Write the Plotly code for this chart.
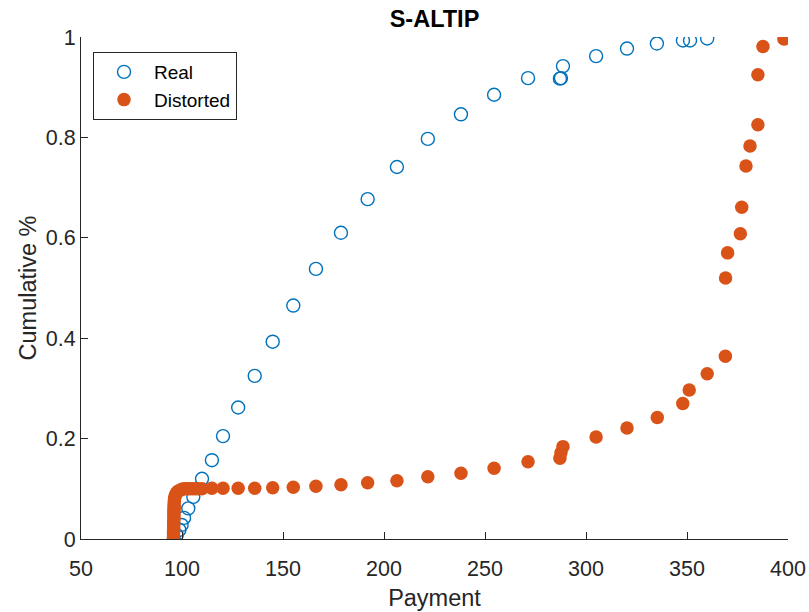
import plotly.graph_objects as go

# Real (empirical CDF)
real_x = [96.0, 97.4, 98.7, 99.8, 101.0, 103.1, 105.6, 109.9, 114.8, 120.3, 127.8,
          136.0, 144.9, 155.1, 166.3, 178.7, 191.9, 206.4, 221.7, 238.1, 254.5, 271.3,
          287.1, 287.6, 288.6, 305.0, 320.3, 335.1, 348.0, 351.5, 360.0]
real_y = [0.0, 0.008, 0.018, 0.028, 0.042, 0.061, 0.084, 0.120, 0.157, 0.205, 0.262,
          0.325, 0.393, 0.465, 0.538, 0.610, 0.677, 0.741, 0.797, 0.846, 0.885, 0.918,
          0.917, 0.918, 0.942, 0.962, 0.977, 0.987, 0.993, 0.993, 0.997]

# Distorted
dist_x = [95.8, 95.8, 95.8, 95.8, 95.8, 95.9, 95.9, 95.9, 95.9, 95.9, 96.0, 96.0,
          96.0, 96.0, 96.0, 96.1, 96.1, 96.1, 96.2, 96.2, 96.3, 96.5, 96.8, 97.3,
          98.0, 99.0, 100.0, 101.0, 102.3, 103.6, 105.0, 106.5, 108.0,
          109.9, 114.8, 120.3, 127.8, 136.0, 144.9, 155.1, 166.3, 178.7, 191.9,
          206.4, 221.7, 238.1, 254.5, 271.3, 287.1, 287.6, 288.6, 305.0, 320.3,
          335.3, 347.9, 351.1, 360.0, 369.0, 369.1, 370.1, 376.4, 377.1, 379.2,
          381.2, 385.1, 385.1, 387.6, 398.0]
dist_y = [0.0, 0.004, 0.008, 0.012, 0.016, 0.020, 0.024, 0.028, 0.032, 0.036, 0.040,
          0.044, 0.048, 0.052, 0.056, 0.060, 0.064, 0.068, 0.072, 0.076, 0.080, 0.084,
          0.088, 0.092, 0.095, 0.097, 0.099, 0.100, 0.100, 0.100, 0.100, 0.100, 0.100,
          0.100, 0.101, 0.101, 0.101, 0.101, 0.102, 0.103, 0.105, 0.108, 0.112,
          0.116, 0.124, 0.131, 0.141, 0.154, 0.161, 0.172, 0.184, 0.203, 0.221,
          0.242, 0.270, 0.297, 0.329, 0.364, 0.520, 0.570, 0.608, 0.661, 0.743,
          0.783, 0.825, 0.925, 0.981, 0.996]

x_ticks = [50, 100, 150, 200, 250, 300, 350, 400]
y_ticks = [0, 0.2, 0.4, 0.6, 0.8, 1]
y_tick_labels = ["0", "0.2", "0.4", "0.6", "0.8", "1"]

FONT = "Liberation Sans, Arial, Helvetica, sans-serif"
AX = "#262626"

fig = go.Figure()
fig.add_trace(go.Scatter(
    x=real_x, y=real_y, mode="markers", name="Real",
    marker=dict(symbol="circle-open", size=13, color="#0072BD",
                line=dict(width=1.4, color="#0072BD")),
))
fig.add_trace(go.Scatter(
    x=dist_x, y=dist_y, mode="markers", name="Distorted",
    marker=dict(symbol="circle", size=13.5, color="#D95319",
                line=dict(width=0)),
))

fig.update_layout(
    width=809, height=612,
    margin=dict(l=81, r=21, t=37, b=73),
    paper_bgcolor="white", plot_bgcolor="white",
    font=dict(family=FONT, color=AX, size=21.5),
    title=dict(text="<b>S-ALTIP</b>", xref="paper", x=0.5, xanchor="center",
               y=0.969, yanchor="middle",
               font=dict(size=23.5, color="#000000", family=FONT)),
    showlegend=True,
    legend=dict(x=0.017, y=0.970, xanchor="left", yanchor="top",
                bordercolor="#262626", borderwidth=1, bgcolor="white",
                font=dict(size=19, color="#000000", family=FONT),
                itemwidth=50),
    xaxis=dict(range=[50, 400], tickvals=x_ticks, ticks="inside", ticklen=7,
               tickcolor=AX, showline=True, linecolor=AX, linewidth=1,
               showgrid=False, zeroline=False, mirror=False, automargin=False,
               ticklabelstandoff=10,
               tickfont=dict(size=21.5, color=AX),
               title=dict(text="Payment", font=dict(size=23.5, color=AX), standoff=9)),
    yaxis=dict(range=[0, 1], tickvals=y_ticks, ticktext=y_tick_labels,
               ticks="inside", ticklen=7, tickcolor=AX,
               showline=True, linecolor=AX, linewidth=1, automargin=False,
               showgrid=False, zeroline=False, mirror=False,
               tickfont=dict(size=21.5, color=AX),
               title=dict(text="Cumulative %", font=dict(size=23.5, color=AX), standoff=2)),
)

fig.write_html("out.html")
